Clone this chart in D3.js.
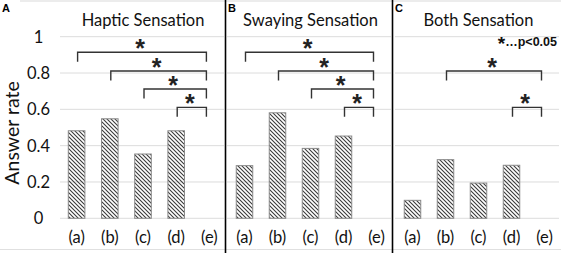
<!DOCTYPE html>
<html>
<head>
<meta charset="utf-8">
<script src="https://cdn.jsdelivr.net/npm/d3@7"></script>
<style>
  body { margin: 0; background: #fff; }
  svg { display: block; }
</style>
</head>
<body>
<div id="chart"></div>
<script>
// data
const categories = ["(a)", "(b)", "(c)", "(d)", "(e)"];
const yTicks = [0, 0.2, 0.4, 0.6, 0.8, 1];
const titles = ["Haptic Sensation", "Swaying Sensation", "Both Sensation"];
const letters = ["A", "B", "C"];
const hapticValues = [0.482, 0.548, 0.354, 0.482, 0];
const swayingValues = [0.29, 0.581, 0.385, 0.453, 0];
const bothValues = [0.099, 0.323, 0.194, 0.292, 0];
// significance brackets: [from, to, height]
const hapticBrackets = [["(a)", "(e)", 0.914], ["(b)", "(e)", 0.811], ["(c)", "(e)", 0.712], ["(d)", "(e)", 0.611]];
const swayingBrackets = [["(a)", "(e)", 0.914], ["(b)", "(e)", 0.811], ["(c)", "(e)", 0.712], ["(d)", "(e)", 0.611]];
const bothBrackets = [["(b)", "(e)", 0.811], ["(d)", "(e)", 0.611]];
const legendStar = "*";
const legendText = "…p<0.05";

const width = 561, height = 253;
const font = "Lato, 'Open Sans', sans-serif";
const arial = "'Liberation Sans', Arial, sans-serif";

const panels = [
    { title: titles[0], letter: letters[0], values: hapticValues, brackets: hapticBrackets, x0: 60, x1: 226, letterX: 2 },
    { title: titles[1], letter: letters[1], values: swayingValues, brackets: swayingBrackets, x0: 228, x1: 393, letterX: 228 },
    { title: titles[2], letter: letters[2], values: bothValues, brackets: bothBrackets, x0: 396, x1: 561, letterX: 395 }
];

const svg = d3.select("#chart").append("svg")
    .attr("width", width)
    .attr("height", height);

const defs = svg.append("defs");
defs.append("pattern")
    .attr("id", "hatch")
    .attr("patternUnits", "userSpaceOnUse")
    .attr("width", 4)
    .attr("height", 4)
    .append("path")
    .attr("d", "M0,0 L4,4 M-1,3 L1,5 M3,-1 L5,1")
    .attr("stroke", "#3a3a3a")
    .attr("stroke-width", 1.1);

const y = d3.scaleLinear().domain([0, 1]).range([218.3, 36.7]);

// frame lines
svg.append("line").attr("x1", 20).attr("x2", width).attr("y1", 1).attr("y2", 1)
    .attr("stroke", "#e6e6e6").attr("stroke-width", 1.5);
svg.append("line").attr("x1", 0).attr("x2", width).attr("y1", 249.5).attr("y2", 249.5)
    .attr("stroke", "#e0e0e0").attr("stroke-width", 1);

// y axis labels
svg.append("g").selectAll("text")
    .data(yTicks)
    .join("text")
    .attr("x", 38.5)
    .attr("y", d => y(d))
    .attr("dy", "0.36em")
    .attr("text-anchor", "middle")
    .attr("font-family", font)
    .attr("font-size", 16.5)
    .attr("fill", "#111")
    .text(d => d3.format("")(d));

svg.append("text")
    .attr("transform", `translate(18.5,${y(0.47)}) rotate(-90)`)
    .attr("text-anchor", "middle")
    .attr("font-family", font)
    .attr("font-size", 19.5)
    .attr("fill", "#111")
    .text("Answer rate");

panels.forEach((p, i) => {
    const g = svg.append("g");
    const x = d3.scaleBand()
        .domain(categories)
        .range([p.x0, p.x1])
        .paddingInner(0.5)
        .paddingOuter(0.25);
    const cx = c => x(c) + x.bandwidth() / 2;

    // grid
    g.append("g").selectAll("line")
        .data(yTicks)
        .join("line")
        .attr("x1", i === 0 ? p.x0 : p.x0 - 1)
        .attr("x2", p.x1 - 2)
        .attr("y1", d => y(d))
        .attr("y2", d => y(d))
        .attr("stroke", "#dcdcdc")
        .attr("stroke-width", 1);

    // bars
    g.append("g").selectAll("rect")
        .data(p.values.map((v, j) => ({ c: categories[j], v })).filter(d => d.v > 0))
        .join("rect")
        .attr("x", d => x(d.c))
        .attr("y", d => y(d.v))
        .attr("width", x.bandwidth())
        .attr("height", d => y(0) - y(d.v))
        .attr("fill", "url(#hatch)")
        .attr("stroke", "#8a8a8a")
        .attr("stroke-width", 1);

    // category labels
    g.append("g").selectAll("text")
        .data(categories)
        .join("text")
        .attr("x", d => cx(d))
        .attr("y", 243)
        .attr("text-anchor", "middle")
        .attr("font-family", font)
        .attr("font-size", 16.5)
        .attr("fill", "#111")
        .text(d => d);

    // title
    g.append("text")
        .attr("x", (p.x0 + p.x1) / 2)
        .attr("y", 25.5)
        .attr("text-anchor", "middle")
        .attr("font-family", font)
        .attr("font-size", 16.5)
        .attr("fill", "#111")
        .text(p.title);

    // panel letter
    g.append("text")
        .attr("x", p.letterX)
        .attr("y", 12)
        .attr("font-family", arial)
        .attr("font-weight", "bold")
        .attr("font-size", 11)
        .attr("fill", "#000")
        .text(p.letter);

    // brackets
    const br = g.append("g").selectAll("g")
        .data(p.brackets)
        .join("g");
    br.append("path")
        .attr("d", d => {
            const a = cx(d[0]) + 1, b = cx(d[1]) - 3, yy = y(d[2]);
            return `M${a},${yy + 9.5}V${yy}H${b}V${yy + 9.5}`;
        })
        .attr("fill", "none")
        .attr("stroke", "#333")
        .attr("stroke-width", 1.4);
    br.append("text")
        .attr("x", d => (cx(d[0]) + cx(d[1])) / 2 - 3)
        .attr("y", d => y(d[2]) + 5)
        .attr("text-anchor", "middle")
        .attr("font-family", arial)
        .attr("font-weight", "bold")
        .attr("font-size", 25)
        .attr("fill", "#222")
        .text("*");
});

// panel separators
svg.append("g").selectAll("line")
    .data([225.5, 392.5])
    .join("line")
    .attr("x1", d => d).attr("x2", d => d)
    .attr("y1", 0).attr("y2", height)
    .attr("stroke", "#000")
    .attr("stroke-width", 1.6);

// legend
const legend = svg.append("text")
    .attr("x", 557)
    .attr("y", 46)
    .attr("text-anchor", "end")
    .attr("font-family", arial)
    .attr("font-weight", "bold")
    .attr("font-size", 12.5)
    .attr("fill", "#111");
legend.append("tspan")
    .attr("font-size", 19)
    .attr("dy", 4)
    .text(legendStar);
legend.append("tspan")
    .attr("dy", -4)
    .text(legendText);
</script>
</body>
</html>
